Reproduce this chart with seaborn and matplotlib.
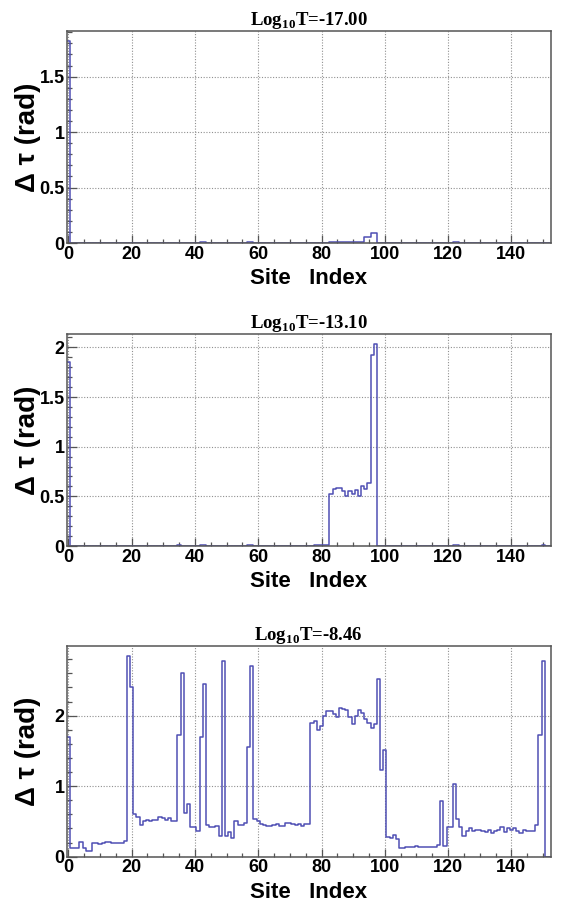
import numpy as np
import pandas as pd
import matplotlib
matplotlib.use("Agg")
import matplotlib.pyplot as plt
from matplotlib.ticker import MultipleLocator, FuncFormatter
import seaborn as sns

# ---------------- data ----------------
n_sites = 153  # site indices 0..152

titles = [r"Log$_{\mathbf{10}}$T=-17.00",
          r"Log$_{\mathbf{10}}$T=-13.10",
          r"Log$_{\mathbf{10}}$T=-8.46"]

# panel 1 (Log10 T = -17.00): non-zero sites only
sites_1 = [0, 42, 43, 57, 58,
           83, 84, 85, 86, 87, 88, 89, 90, 91, 92, 93,
           94, 95, 96, 97, 122, 123]
dtau_1 = [1.82, 0.006, 0.006, 0.005, 0.005,
          0.008, 0.008, 0.008, 0.008, 0.008, 0.008, 0.008, 0.008, 0.008, 0.008, 0.008,
          0.05, 0.05, 0.09, 0.09, 0.006, 0.006]

# panel 2 (Log10 T = -13.10): non-zero sites only
sites_2 = [0, 35, 42, 43, 57, 58, 78, 79, 80, 81, 82,
           83, 84, 85, 86, 87, 88, 89, 90, 91, 92, 93, 94, 95, 96, 97,
           122, 123, 150]
dtau_2 = [1.85, 0.006, 0.008, 0.008, 0.006, 0.006, 0.008, 0.008, 0.008, 0.008, 0.008,
          0.52, 0.57, 0.58, 0.58, 0.55, 0.50, 0.55, 0.52, 0.56, 0.50, 0.60, 0.57, 0.63, 1.92, 2.03,
          0.008, 0.008, 0.01]

# panel 3 (Log10 T = -8.46): every site 0..152
sites_3 = list(range(n_sites))
dtau_3 = [1.70, 0.13, 0.13, 0.13, 0.21, 0.13, 0.08, 0.08, 0.20, 0.20,
          0.18, 0.19, 0.21, 0.21, 0.20, 0.20, 0.20, 0.19, 0.22, 2.85,
          2.40, 0.60, 0.57, 0.45, 0.50, 0.52, 0.50, 0.52, 0.52, 0.56,
          0.55, 0.52, 0.55, 0.50, 0.50, 1.72, 2.60, 0.62, 0.75, 0.42,
          0.42, 0.37, 1.70, 2.45, 0.45, 0.42, 0.42, 0.43, 0.29, 2.78,
          0.30, 0.35, 0.27, 0.50, 0.45, 0.45, 0.48, 1.55, 2.70, 0.53,
          0.50, 0.47, 0.45, 0.43, 0.43, 0.45, 0.47, 0.43, 0.43, 0.48,
          0.48, 0.47, 0.45, 0.47, 0.43, 0.47, 0.47, 1.90, 1.93, 1.80,
          1.85, 1.99, 2.06, 2.06, 2.02, 1.98, 2.11, 2.10, 2.08, 1.98,
          1.88, 1.99, 2.08, 2.04, 1.96, 1.90, 1.83, 1.88, 2.52, 1.23,
          1.52, 0.28, 0.27, 0.31, 0.25, 0.13, 0.13, 0.14, 0.14, 0.14,
          0.15, 0.14, 0.14, 0.14, 0.14, 0.14, 0.14, 0.16, 0.79, 0.15,
          0.42, 0.42, 1.03, 0.53, 0.42, 0.30, 0.37, 0.40, 0.36, 0.38,
          0.38, 0.37, 0.35, 0.38, 0.34, 0.37, 0.38, 0.42, 0.35, 0.40,
          0.38, 0.40, 0.36, 0.34, 0.38, 0.36, 0.36, 0.37, 0.45, 1.72,
          2.78, 0.0, 0.0]

x_label = "Site   Index"
y_label = "Δ τ (rad)"

# ---------------- style ----------------
plt.rcParams["font.family"] = ["Liberation Sans", "DejaVu Sans"]
plt.rcParams["mathtext.fontset"] = "custom"
plt.rcParams["mathtext.rm"] = "Liberation Serif:bold"
plt.rcParams["mathtext.bf"] = "Liberation Serif:bold"

LINE = "#4f4fb4"
FRAME = "#555555"
GRID = "#909090"

fig = plt.figure(figsize=(5.63, 9.05), dpi=100)
W, H = 563.0, 905.0
left_px, right_px = 66.7, 551.0
panels_px = [(31.0, 243.0), (334.3, 546.0), (645.7, 856.7)]

datasets = [(sites_1, dtau_1, 0.5, 0.1),
            (sites_2, dtau_2, 0.5, 0.1),
            (sites_3, dtau_3, 1.0, 0.2)]

for (top, bot), (sites, vals, ymaj, ymin), title in zip(panels_px, datasets, titles):
    ax = fig.add_axes([left_px / W, 1 - bot / H, (right_px - left_px) / W, (bot - top) / H])
    df = pd.DataFrame({"site": sites, "dtau": vals})
    sns.histplot(data=df, x="site", weights="dtau", bins=n_sites,
                 binrange=(-0.5, n_sites - 0.5), element="step", fill=False,
                 color=LINE, linewidth=1.1, ax=ax)
    ax.set_xlim(-0.5, n_sites - 0.5)
    ax.set_ylim(0, 1.05 * max(vals))
    ax.set_axisbelow(True)
    ax.grid(True, which="major", color=GRID, linestyle=(0, (1, 1.5)), linewidth=0.8)
    ax.xaxis.set_major_locator(MultipleLocator(20))
    ax.xaxis.set_minor_locator(MultipleLocator(5))
    ax.yaxis.set_major_locator(MultipleLocator(ymaj))
    ax.yaxis.set_minor_locator(MultipleLocator(ymin))
    ax.yaxis.set_major_formatter(FuncFormatter(lambda v, p: "%g" % v))
    ax.tick_params(axis="both", which="both", direction="in", top=False, right=False,
                   colors=FRAME, labelcolor="black", width=0.9)
    ax.tick_params(axis="x", which="major", length=5.5, pad=2)
    ax.tick_params(axis="x", which="minor", length=3)
    ax.tick_params(axis="y", which="major", length=7, pad=1.5)
    ax.tick_params(axis="y", which="minor", length=3.6)
    for lab in ax.get_xticklabels() + ax.get_yticklabels():
        lab.set_fontsize(13)
        lab.set_fontweight("bold")
    for sp in ax.spines.values():
        sp.set_color(FRAME)
        sp.set_linewidth(1.1)
    ax.set_xlabel(x_label, fontsize=16, fontweight="bold")
    ax.set_ylabel(y_label, fontsize=20, fontweight="bold")
    ax.xaxis.set_label_coords(0.5, -0.12)
    ax.yaxis.set_label_coords(-0.054, 0.5)
    ax.set_title(title, fontsize=13.5, fontweight="bold",
                 fontfamily=["Liberation Serif", "DejaVu Serif"], pad=2)

fig.savefig("out.png", dpi=100)
